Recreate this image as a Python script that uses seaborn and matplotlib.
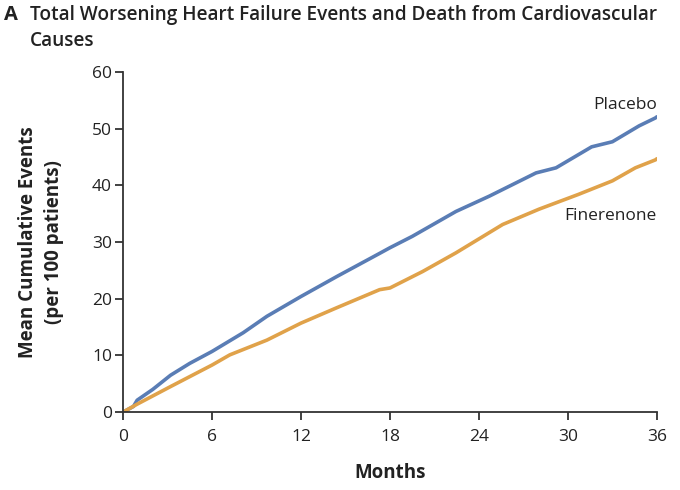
import matplotlib
matplotlib.use("Agg")
import matplotlib.pyplot as plt
import seaborn as sns
import pandas as pd

# values
placebo_months = [0, 0.7, 0.95, 2.0, 3.2, 4.5, 6.0, 8.1, 9.7, 12.0, 14.4, 17.3, 18.0, 19.5,
                  22.45, 24.7, 27.85, 29.2, 31.6, 33.0, 34.8, 35.9, 36.0]
placebo_events = [0, 1.0, 2.1, 4.0, 6.5, 8.6, 10.7, 14.0, 16.9, 20.4, 23.9, 28.0, 29.0, 31.0,
                  35.4, 38.1, 42.2, 43.1, 46.8, 47.7, 50.5, 51.9, 52.1]
finerenone_months = [0, 0.95, 3.2, 6.0, 7.2, 9.7, 12.0, 14.4, 17.3, 18.0, 20.2, 22.45,
                     25.6, 28.05, 30.7, 33.0, 34.55, 35.9, 36.0]
finerenone_events = [0, 1.4, 4.5, 8.3, 10.1, 12.7, 15.7, 18.4, 21.6, 21.9, 24.8, 28.1,
                     33.1, 35.8, 38.4, 40.8, 43.1, 44.5, 44.7]
x_ticks = [0, 6, 12, 18, 24, 30, 36]
y_ticks = [0, 10, 20, 30, 40, 50, 60]

df = pd.concat([
    pd.DataFrame({"Months": placebo_months, "Events": placebo_events, "Group": "Placebo"}),
    pd.DataFrame({"Months": finerenone_months, "Events": finerenone_events, "Group": "Finerenone"}),
])

sns.set_style("white")
plt.rcParams['font.family'] = ['Open Sans', 'DejaVu Sans']

fig = plt.figure(figsize=(6.8, 4.9), dpi=100)
ax = fig.add_axes([0.181, 0.159, 0.785, 0.694])

sns.lineplot(data=df, x="Months", y="Events", hue="Group",
             palette={"Placebo": "#5a7db5", "Finerenone": "#e0a24a"},
             linewidth=2.6, legend=False, ax=ax)

ax.set_xlim(0, 36)
ax.set_ylim(0, 60)
ax.set_xticks(x_ticks)
ax.set_yticks(y_ticks)
ax.tick_params(axis="both", direction="out", length=6, width=1.3, color="#333333",
               labelsize=12.5, labelcolor="#222222", left=True, bottom=True)
ax.tick_params(axis="x", pad=6)
ax.tick_params(axis="y", pad=2)
for s in ["top", "right"]:
    ax.spines[s].set_visible(False)
for s in ["left", "bottom"]:
    ax.spines[s].set_color("#333333")
    ax.spines[s].set_linewidth(1.3)

ax.set_xlabel("Months", fontsize=13.5, fontweight="bold", labelpad=13, color="#222222")
ax.set_ylabel("Mean Cumulative Events\n(per 100 patients)", fontsize=13.5,
              fontweight="bold", labelpad=20, color="#222222", linespacing=1.4)

ax.text(36, 54.2, "Placebo", ha="right", va="center", fontsize=12.5, color="#222222")
ax.text(36, 34.6, "Finerenone", ha="right", va="center", fontsize=12.5, color="#222222")

fig.text(0.006, 0.969, "A", fontsize=14.5, fontweight="bold", va="center", color="#222222")
fig.text(0.044, 0.969, "Total Worsening Heart Failure Events and Death from Cardiovascular",
         fontsize=13.7, fontweight="semibold", va="center", ha="left", color="#222222")
fig.text(0.044, 0.916, "Causes",
         fontsize=13.7, fontweight="semibold", va="center", ha="left", color="#222222")

fig.savefig("out.png", dpi=100)
